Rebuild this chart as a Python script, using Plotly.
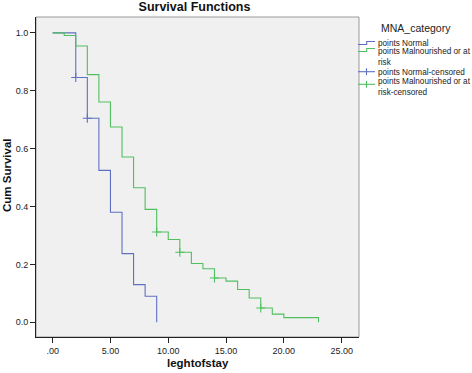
import plotly.graph_objects as go

# Kaplan-Meier estimates
normal_time = [0, 2, 3, 4, 5, 6, 7, 8, 9]
normal_surv = [1.0, 0.846, 0.705, 0.525, 0.38, 0.237, 0.13, 0.09, 0.0]

mal_time = [0, 1, 2, 3, 4, 5, 6, 7, 8, 9, 10, 11, 12, 13, 14, 15, 16, 17, 18, 19, 20, 23]
mal_surv = [1.0, 0.991, 0.955, 0.856, 0.761, 0.675, 0.571, 0.465, 0.39, 0.312, 0.286,
            0.242, 0.203, 0.185, 0.153, 0.142, 0.113, 0.084, 0.049, 0.028, 0.016, 0.0]

normal_cens_time = [2, 3]
normal_cens_surv = [0.846, 0.705]
mal_cens_time = [9, 11, 14, 18]
mal_cens_surv = [0.312, 0.242, 0.153, 0.049]

x_ticks = [0, 5, 10, 15, 20, 25]
x_tick_labels = [".00", "5.00", "10.00", "15.00", "20.00", "25.00"]
y_ticks = [0.0, 0.2, 0.4, 0.6, 0.8, 1.0]
y_tick_labels = ["0.0", "0.2", "0.4", "0.6", "0.8", "1.0"]

legend_title = "MNA_category"
legend_labels = ["points Normal", "points Malnourished or at<br>risk",
                 "points Normal-censored", "points Malnourished or at<br>risk-censored"]

BLUE = "#5f70c2"
GREEN = "#50bf60"
FONT = "Liberation Sans, Arial, sans-serif"

W, H = 472, 373
L, R, T, B = 36, 113, 17, 36
PW, PH = W - L - R, H - T - B


def px(xp):
    return (xp - L) / PW


def py(yp):
    return (H - B - yp) / PH


fig = go.Figure()
fig.add_trace(go.Scatter(x=normal_time, y=normal_surv, mode="lines", line_shape="hv",
                         line=dict(color=BLUE, width=1.1), name=legend_labels[0]))
fig.add_trace(go.Scatter(x=mal_time, y=mal_surv, mode="lines", line_shape="hv",
                         line=dict(color=GREEN, width=1.1), name=legend_labels[1]))
fig.add_trace(go.Scatter(x=normal_cens_time, y=normal_cens_surv, mode="markers",
                         marker=dict(symbol="cross-thin", size=6.5, line=dict(color=BLUE, width=1.1), color=BLUE),
                         name=legend_labels[2]))
fig.add_trace(go.Scatter(x=mal_cens_time, y=mal_cens_surv, mode="markers",
                         marker=dict(symbol="cross-thin", size=6.5, line=dict(color=GREEN, width=1.1), color=GREEN),
                         name=legend_labels[3]))

fig.update_layout(
    width=W, height=H,
    margin=dict(l=L, r=R, t=T, b=B, autoexpand=False),
    paper_bgcolor="white",
    plot_bgcolor="#f0f0f0",
    font=dict(family=FONT, size=9, color="#222222"),
    title=dict(text="<b>Survival Functions</b>", x=194.5 / W, xanchor="center",
               y=1 - 6.5 / H, yanchor="middle", font=dict(size=12.5, color="#111111")),
    showlegend=False,
    xaxis=dict(range=[-1.44, 26.5], tickvals=x_ticks, ticktext=x_tick_labels, automargin=False,
               showgrid=False, zeroline=False, ticks="outside", ticklen=5, tickcolor="#222222",
               showline=True, linecolor="#222222", linewidth=1, tickfont=dict(size=9)),
    yaxis=dict(range=[-0.051, 1.055], tickvals=y_ticks, ticktext=y_tick_labels, automargin=False,
               showgrid=False, zeroline=False, ticks="outside", ticklen=5, tickcolor="#222222",
               showline=True, linecolor="#222222", linewidth=1, tickfont=dict(size=9)),
)
# gray frame around the plot area
fig.add_shape(type="rect", xref="paper", yref="paper", x0=0, y0=0, x1=1, y1=1,
              line=dict(color="#9a9a9a", width=1), layer="below")

# axis titles
fig.add_annotation(text="<b>leghtofstay</b>", xref="paper", yref="paper", x=px(198), y=py(363),
                   xanchor="center", yanchor="middle", showarrow=False,
                   font=dict(size=11.5, color="#111111"))
fig.add_annotation(text="<b>Cum Survival</b>", xref="paper", yref="paper", x=px(7), y=py(175),
                   xanchor="center", yanchor="middle", showarrow=False, textangle=-90,
                   font=dict(size=11.5, color="#111111"))

# legend (drawn outside the plot area, to the right)
fig.add_annotation(text=legend_title, xref="paper", yref="paper", x=px(416), y=py(27.5),
                   xanchor="center", yanchor="middle", showarrow=False,
                   font=dict(size=10.5, color="#222222"))
entry_y = [43.3, 57.3, 72.7, 87.2]
for lab, yc in zip(legend_labels, entry_y):
    fig.add_annotation(text=lab, xref="paper", yref="paper", x=px(376), y=py(yc),
                       xanchor="left", yanchor="middle", align="left", showarrow=False,
                       font=dict(size=8.2, color="#222222"))


def step_path(y_low, y_high):
    return (f"M {px(358)},{py(y_low)} L {px(366.7)},{py(y_low)} "
            f"L {px(366.7)},{py(y_high)} L {px(375)},{py(y_high)}")


fig.add_shape(type="path", xref="paper", yref="paper", path=step_path(44.5, 41.5),
              line=dict(color=BLUE, width=1.1))
fig.add_shape(type="path", xref="paper", yref="paper", path=step_path(51.5, 48.5),
              line=dict(color=GREEN, width=1.1))
for yc, col in [(71.7, BLUE), (84.3, GREEN)]:
    fig.add_shape(type="line", xref="paper", yref="paper", x0=px(358), x1=px(375),
                  y0=py(yc), y1=py(yc), line=dict(color=col, width=1.1))
    fig.add_shape(type="line", xref="paper", yref="paper", x0=px(366.5), x1=px(366.5),
                  y0=py(yc - 3.5), y1=py(yc + 3.5), line=dict(color=col, width=1.1))

fig.write_html("out.html", config={"displayModeBar": False},
               post_script="document.body.style.margin='0';")
